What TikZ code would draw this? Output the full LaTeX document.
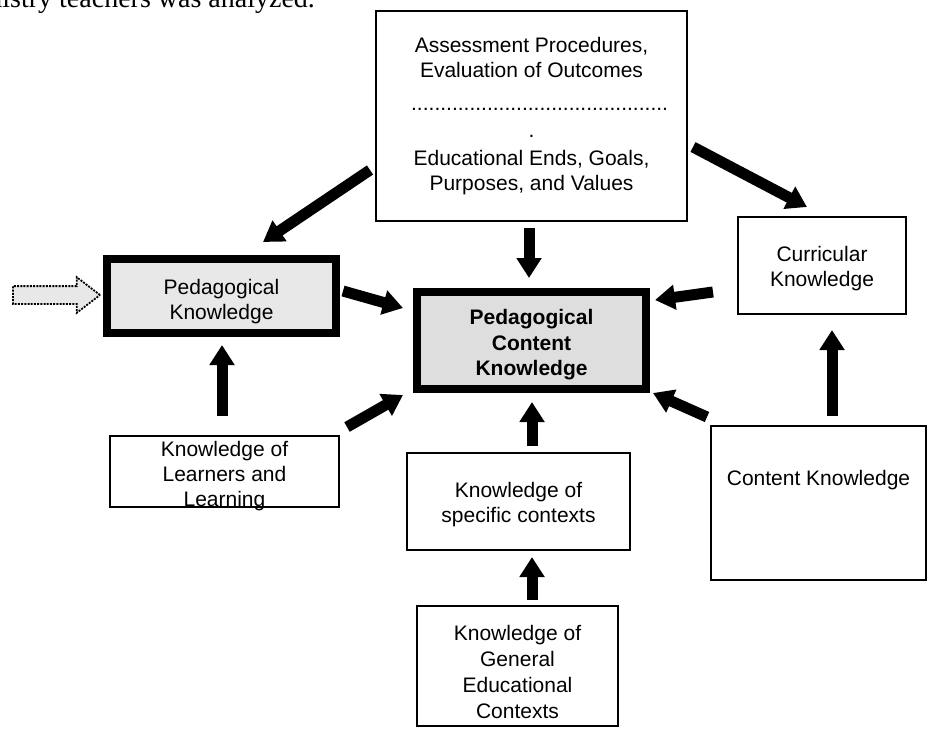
\documentclass[tikz,border=0pt]{standalone}
\usepackage{fontspec}
\setmainfont{Liberation Sans}
\newfontfamily\captionfont{Liberation Serif}
\usetikzlibrary{arrows.meta,shapes.arrows}

\begin{document}
\begin{tikzpicture}[x=0.5pt, y=-0.5pt,
  font=\fontsize{10.5}{12.5}\selectfont,
  box/.style={draw=black, line width=0.75pt, align=center, inner sep=0pt, outer sep=0pt},
  keybox/.style={box, line width=4pt},
  boxtext/.style={align=center, inner sep=0pt},
  bigarrow/.style={-{Triangle[length=10pt, width=12pt]}, line width=5.5pt, draw=black},
  inarrow/.style={single arrow, draw=black, fill=black!9, line width=0.9pt, dash pattern=on 1pt off 0.6pt, single arrow tip angle=75, single arrow head extend=4.5pt, minimum height=43.5pt, inner xsep=0pt, inner ysep=4pt, outer sep=0pt}]
\useasboundingbox (0,0) rectangle (929,728);
\clip (0,0) rectangle (929,728);
\node[font=\captionfont\fontsize{14}{16}\selectfont, anchor=base east] (caption) at (322,7) {mistry teachers was analyzed.};
\node[box, minimum width=155.5pt, minimum height=105pt] (top) at (531.5,116) {Assessment Procedures,\\Evaluation of Outcomes\\[4pt]\hspace*{8pt}............................................\\[1pt].\\[1.5pt]Educational Ends, Goals,\\Purposes, and Values};
\node[keybox, fill=black!9, minimum width=114.5pt, minimum height=37pt, label={[boxtext, yshift=-2.75pt]center:Pedagogical\\Knowledge}] (pk) at (221.5,296) {};
\node[inarrow, anchor=tip] (feed) at ([shift={(-7,-1)}]pk.west) {};
\node[keybox, fill=black!13, minimum width=114.5pt, minimum height=48.5pt, label={[boxtext, font=\fontsize{10.5}{12.75}\selectfont\bfseries, yshift=-2.25pt]center:Pedagogical\\Content\\Knowledge}] (pck) at (531.5,340.5) {};
\node[box, minimum width=84pt, minimum height=48.5pt, label={[boxtext, yshift=-1.75pt]center:Curricular\\Knowledge}] (cur) at (822,265.5) {};
\node[box, minimum width=107.5pt, minimum height=77pt, label={[boxtext, anchor=center, yshift=-27pt]north:Content Knowledge}] (ck) at (818.5,503) {};
\node[box, minimum width=114.5pt, minimum height=35.5pt, label={[boxtext, yshift=-2.25pt]center:Knowledge of\\Learners and\\Learning}] (learn) at (224.5,471.5) {};
\node[box, minimum width=111.5pt, minimum height=48.5pt, label={[boxtext, yshift=-1.5pt]center:Knowledge of\\specific contexts}] (spec) at (518.5,501.5) {};
\node[box, minimum width=100.5pt, minimum height=60pt, label={[boxtext, font=\fontsize{10.5}{13}\selectfont, yshift=-3pt]center:Knowledge of\\General\\Educational\\Contexts}] (gen) at (517.5,666) {};
% arrows
\path ([shift={(-6,54)}]top.west) edge[bigarrow] ([shift={(-73,-17)}]pk.north east);
\path ([shift={(-2.5,7)}]top.south) edge[bigarrow] ([shift={(-2.5,-14)}]pck.north);
\path ([shift={(6,31)}]top.east) edge[bigarrow] ([shift={(-15,-10)}]cur.north);
\path ([shift={(7,-5)}]pk.east) edge[bigarrow] ([shift={(-14,-32.5)}]pck.west);
\path ([shift={(-25,26.5)}]cur.west) edge[bigarrow] ([shift={(9,8)}]pck.north east);
\path ([shift={(-4,-9)}]ck.north west) edge[bigarrow] ([shift={(7,4)}]pck.south east);
\path ([shift={(8,-9)}]learn.north east) edge[bigarrow] ([shift={(-14,6)}]pck.south west);
\path ([shift={(13.5,-7)}]spec.north) edge[bigarrow] ([shift={(0.5,13)}]pck.south);
\path ([shift={(14.5,-6)}]gen.north) edge[bigarrow] ([shift={(13.5,7)}]spec.south);
\path ([shift={(-2.5,-20)}]learn.north) edge[bigarrow] ([shift={(0.5,12)}]pk.south);
\path ([shift={(13.5,-10)}]ck.north) edge[bigarrow] ([shift={(10,16)}]cur.south);
\end{tikzpicture}
\end{document}
